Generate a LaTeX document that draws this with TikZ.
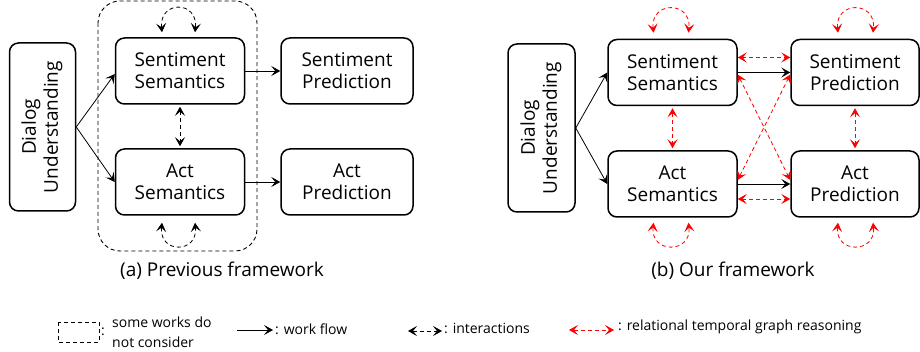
\documentclass[tikz,border=0pt]{standalone}
\usepackage{fontspec}
\setmainfont{Open Sans}
\usetikzlibrary{arrows.meta}
\begin{document}
\begin{tikzpicture}[x=1pt,y=-1pt,
  tip/.tip={Stealth[length=9pt,width=10pt,inset=4pt]},
  box/.style={draw, line width=1.5pt, rounded corners=9pt, fill=white,
    minimum width=129pt, minimum height=66pt, inner sep=0pt, align=center,
    font=\fontsize{19}{22}\selectfont},
  dubox/.style={draw, line width=1.5pt, rounded corners=9pt,
    minimum width=66pt, minimum height=168pt, inner sep=0pt,
    font=\fontsize{19}{22}\selectfont},
  dashes/.style={dash pattern=on 4pt off 3pt},
  flow/.style={-tip, line width=0.8pt},
  inter/.style={tip-tip, line width=0.8pt, dashes},
  rel/.style={inter, red},
  caption/.style={font=\fontsize{19}{22}\selectfont},
  legend/.style={font=\fontsize{14}{20}\selectfont, align=left, inner sep=0pt, anchor=west}
]
\useasboundingbox (0,0) rectangle (920,352);

% ---------- (a) previous framework ----------
\draw[line width=0.9pt, dashes, rounded corners=22pt] (98,1) rectangle (257,251);

\node[dubox] (du1) at (42.5,127)
  {\rotatebox{90}{\begin{tabular}{@{}c@{}}Dialog\\Understanding\end{tabular}}};
\node[box] (ss1) at (180,71) {Sentiment\\Semantics};
\node[box] (as1) at (180,182) {Act\\Semantics};
\node[box, minimum width=132pt] (sp1) at (347,71) {Sentiment\\Prediction};
\node[box, minimum width=132pt] (ap1) at (347,182) {Act\\Prediction};

\draw[flow] (du1.east) -- ([yshift=-3pt]ss1.west);
\draw[flow] (du1.east) -- (as1.west);
\draw[flow] (ss1.east) -- (sp1.west);
\draw[flow] (as1.east) -- (ap1.west);
\draw[inter] ([yshift=-2pt]ss1.south) -- ([yshift=2pt]as1.north);
\draw[inter] ([xshift=-18pt,yshift=5pt]ss1.north) .. controls +(-3,-32) and +(3,-32) .. ([xshift=15pt,yshift=5pt]ss1.north);
\draw[inter] ([xshift=-18pt,yshift=-7pt]as1.south) .. controls +(-3,31) and +(3,31) .. ([xshift=15pt,yshift=-7pt]as1.south);

\node[caption] (capa) at (222,271) {(a) Previous framework};

% ---------- (b) our framework ----------
\node[dubox, minimum width=67pt] (du2) at (541.5,128)
  {\rotatebox{90}{\begin{tabular}{@{}c@{}}Dialog\\Understanding\end{tabular}}};
\node[box] (ss2) at (672.5,72.5) {Sentiment\\Semantics};
\node[box] (as2) at (672.5,184) {Act\\Semantics};
\node[box, minimum width=128pt] (sp2) at (855,72.5) {Sentiment\\Prediction};
\node[box, minimum width=128pt] (ap2) at (855,184) {Act\\Prediction};

\draw[flow] (du2.east) -- (ss2.west);
\draw[flow] (du2.east) -- (as2.west);
\draw[flow] (ss2.east) -- (sp2.west);
\draw[flow] (as2.east) -- (ap2.west);

\draw[rel] ([yshift=15pt]ss2.east) -- ([yshift=15pt]sp2.west);
\draw[rel] ([yshift=-15pt]as2.east) -- ([yshift=-15pt]ap2.west);
\draw[rel] ([yshift=-2pt]ss2.east) -- ([yshift=4pt]ap2.west);
\draw[rel] ([yshift=4pt]as2.east) -- ([yshift=-2pt]sp2.west);
\draw[rel] ([yshift=-2pt]ss2.south) -- ([yshift=2pt]as2.north);
\draw[rel] ([yshift=-2pt]sp2.south) -- ([yshift=2pt]ap2.north);

\draw[rel] ([xshift=-19pt,yshift=6pt]ss2.north) .. controls +(-3,-32) and +(3,-32) .. ([xshift=16pt,yshift=6pt]ss2.north);
\draw[rel] ([xshift=-17pt,yshift=6pt]sp2.north) .. controls +(-3,-32) and +(3,-32) .. ([xshift=18pt,yshift=6pt]sp2.north);
\draw[rel] ([xshift=-19pt,yshift=-5pt]as2.south) .. controls +(-3,31) and +(3,31) .. ([xshift=16pt,yshift=-5pt]as2.south);
\draw[rel] ([xshift=-17pt,yshift=-5pt]ap2.south) .. controls +(-3,31) and +(3,31) .. ([xshift=18pt,yshift=-5pt]ap2.south);

\node[caption] (capb) at (733,271) {(b) Our framework};

% ---------- legend ----------
\draw[line width=0.7pt, dashes] (58,322) rectangle (99,342);
\node[legend] (lg1) at (101,332) {:};
\node[legend] (lg1t) at (112,332) {some works do\\not consider};

\coordinate (f1) at (237,330);
\coordinate (f2) at (273,330);
\draw[flow] (f1) -- (f2);
\node[legend] (lg2) at (275,329) {: work flow};

\coordinate (i1) at (408,331);
\coordinate (i2) at (442,331);
\draw[inter] (i1) -- (i2);
\node[legend] (lg3) at (444,328) {: interactions};

\coordinate (r1) at (569,330);
\coordinate (r2) at (614,330);
\draw[rel] (r1) -- (r2);
\node[legend] (lg4) at (618,327) {: relational temporal graph reasoning};
\end{tikzpicture}
\end{document}
